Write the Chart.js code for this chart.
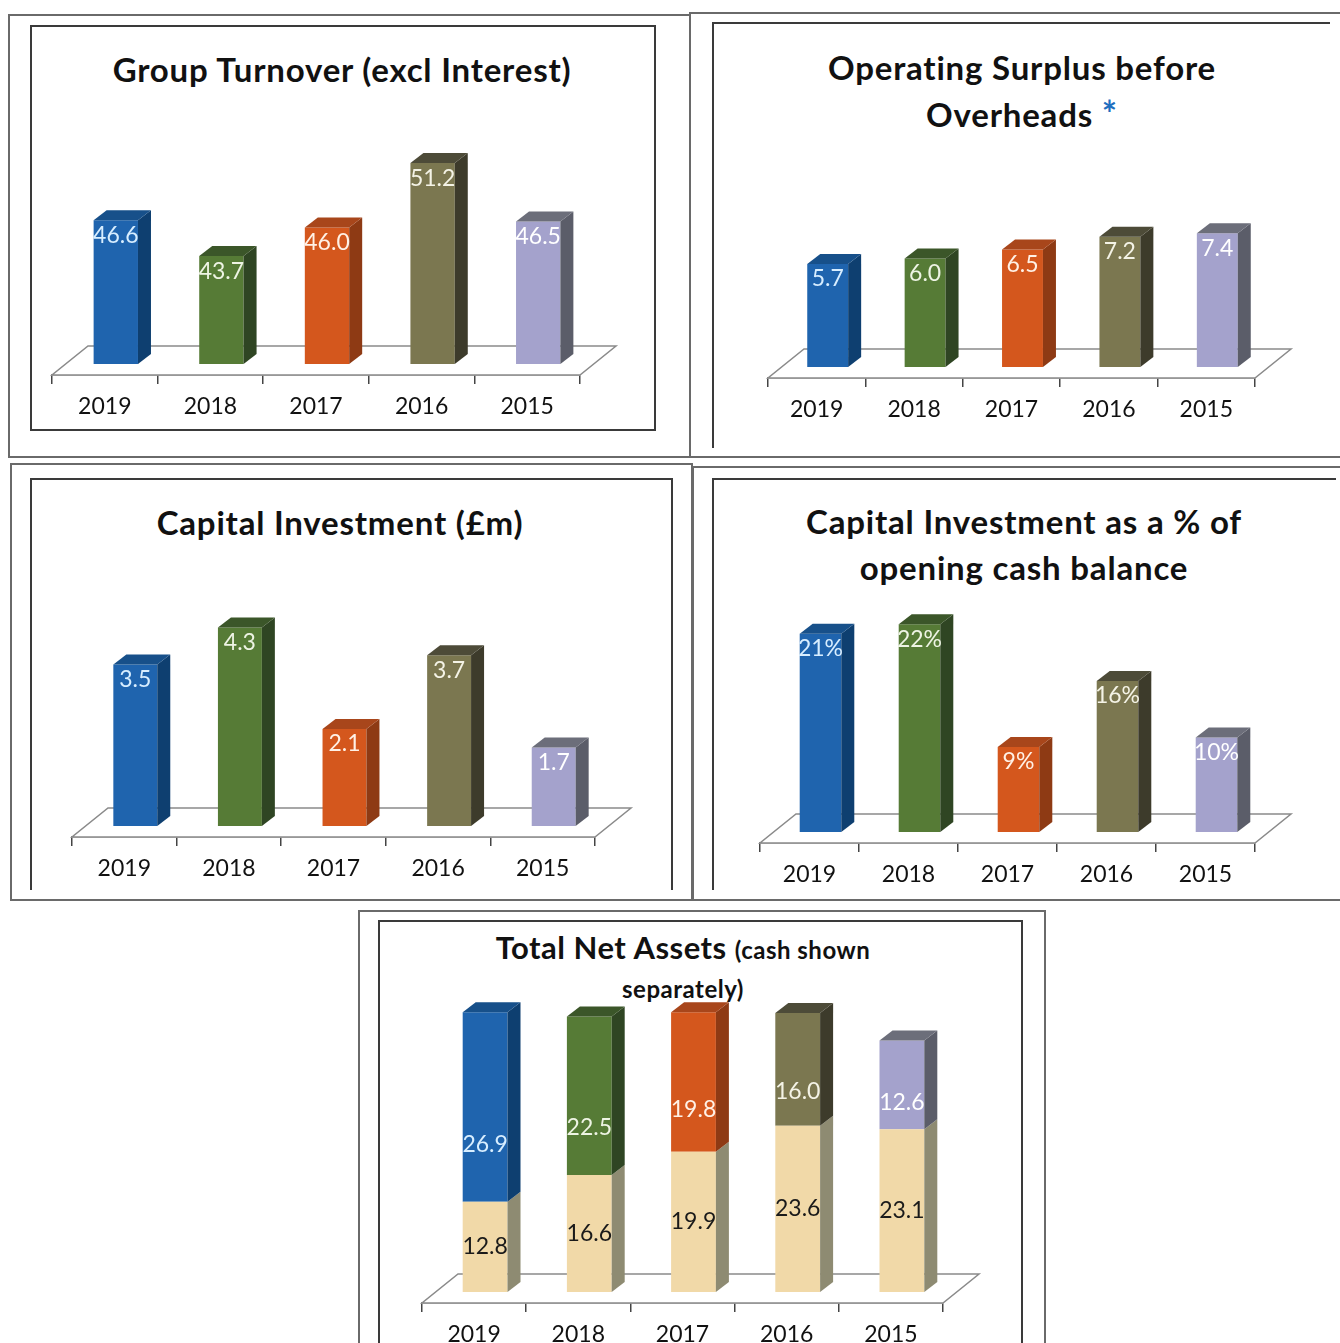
<!DOCTYPE html>
<html>
<head>
<meta charset="utf-8">
<title>Key figures 2015-2019</title>
<script src="https://cdn.jsdelivr.net/npm/chart.js@4.4.1/dist/chart.umd.min.js"></script>
<style>
  body { margin: 0; width: 1340px; height: 1343px; overflow: hidden; background: #fff; position: relative; font-family: Lato, "Open Sans", sans-serif; }
  .frame { position: absolute; box-sizing: border-box; border: 2px solid #6a6a6a; }
  .inner { position: absolute; box-sizing: border-box; border: 2px solid #3a3a3a; }
  .title { position: absolute; text-align: center; font-weight: bold; color: #111; white-space: nowrap; letter-spacing: 0.8px; }
  .star { color: #1f6fbf; font-size: 36px; }
  canvas { position: absolute; }
</style>
</head>
<body>

<!-- panel frames -->
<div class="frame" style="left:8px;top:14px;width:683px;height:444px"></div>
<div class="inner" style="left:30px;top:25px;width:626px;height:406px"></div>

<div class="frame" style="left:689px;top:12px;width:660px;height:446px"></div>
<div class="inner" style="left:712px;top:22px;width:618px;height:426px;border-right:none;border-bottom:none"></div>

<div class="frame" style="left:10px;top:463px;width:683px;height:438px"></div>
<div class="inner" style="left:30px;top:478px;width:643px;height:412px;border-bottom:none"></div>

<div class="frame" style="left:692px;top:466px;width:660px;height:435px"></div>
<div class="inner" style="left:712px;top:478px;width:624px;height:412px;border-right:none;border-bottom:none"></div>

<div class="frame" style="left:358px;top:910px;width:688px;height:450px"></div>
<div class="inner" style="left:378px;top:920px;width:645px;height:440px"></div>

<!-- titles -->
<div class="title" style="left:42px;width:600px;top:49px;font-size:33px;line-height:40px">Group Turnover (excl Interest)</div>
<div class="title" style="left:722px;width:600px;top:44px;font-size:33px;line-height:46px">Operating Surplus before<br>Overheads <span class="star">*</span></div>
<div class="title" style="left:40px;width:600px;top:502px;font-size:33px;line-height:40px">Capital Investment (£m)</div>
<div class="title" style="left:724px;width:600px;top:498px;font-size:33px;line-height:46px">Capital Investment as a % of<br>opening cash balance</div>
<div class="title" style="left:383px;width:600px;top:929px;font-size:31px;line-height:37px;letter-spacing:0.5px">Total Net Assets <span style="font-size:24px">(cash shown</span><br><span style="font-size:24px">separately)</span></div>

<canvas id="c1"></canvas>
<canvas id="c2"></canvas>
<canvas id="c3"></canvas>
<canvas id="c4"></canvas>
<canvas id="c5"></canvas>

<script>
// ---- data ----
const years = ['2019', '2018', '2017', '2016', '2015'];
const turnover = [46.6, 43.7, 46.0, 51.2, 46.5];
const surplus = [5.7, 6.0, 6.5, 7.2, 7.4];
const capInvest = [3.5, 4.3, 2.1, 3.7, 1.7];
const capInvestPct = [21, 22, 9, 16, 10];
const netAssetsCash = [12.8, 16.6, 19.9, 23.6, 23.1];
const netAssetsOther = [26.9, 22.5, 19.8, 16.0, 12.6];

// ---- colours ----
const frontColors = ['#1f64ae', '#567b36', '#d4571d', '#7b7750', '#a4a2cc'];
const sideColors = ['#0e3f70', '#2f4523', '#8e3a14', '#3d3b2b', '#5b5d69'];
const topColors = ['#17508a', '#3b5629', '#a8461b', '#4d4b38', '#6c6e7a'];
const labelColors = ['#d8eeff', '#eef4e4', '#fff1e6', '#f4f3e6', '#ffffff'];
const cashFront = ['#f1d9a8', '#f1d9a8', '#f1d9a8', '#f1d9a8', '#f1d9a8'];
const cashSide = ['#8e8b72', '#8e8b72', '#8e8b72', '#8e8b72', '#8e8b72'];
const cashLabel = ['#1a1a1a', '#1a1a1a', '#1a1a1a', '#1a1a1a', '#1a1a1a'];

function poly(ctx, pts, fill) {
  ctx.beginPath();
  ctx.moveTo(pts[0][0], pts[0][1]);
  for (let i = 1; i < pts.length; i++) ctx.lineTo(pts[i][0], pts[i][1]);
  ctx.closePath();
  ctx.fillStyle = fill;
  ctx.fill();
}

// floor, side and top faces, and value labels
const bars3d = {
  id: 'bars3d',
  beforeDatasetsDraw(chart, args, opts) {
    const { ctx, chartArea: a } = chart;
    ctx.save();
    ctx.beginPath();
    ctx.moveTo(a.left, a.bottom);
    ctx.lineTo(a.right, a.bottom);
    ctx.lineTo(a.right + opts.fdx, a.bottom + opts.fdy);
    ctx.lineTo(a.left + opts.fdx, a.bottom + opts.fdy);
    ctx.closePath();
    ctx.fillStyle = '#fff';
    ctx.fill();
    ctx.strokeStyle = '#8a8a8a';
    ctx.lineWidth = 1.5;
    ctx.stroke();
    ctx.restore();
    ctx.save();
    ctx.translate(opts.ox, opts.oy);
  },
  afterDatasetsDraw(chart, args, opts) {
    const ctx = chart.ctx;
    const sets = chart.data.datasets;
    const last = sets.length - 1;
    sets.forEach((ds, di) => {
      chart.getDatasetMeta(di).data.forEach((bar, i) => {
        const p = bar.getProps(['x', 'y', 'base', 'width'], true);
        const l = p.x - p.width / 2, r = p.x + p.width / 2;
        const t = Math.min(p.y, p.base), b = Math.max(p.y, p.base);
        poly(ctx, [[r, t], [r + opts.bdx, t + opts.bdy], [r + opts.bdx, b + opts.bdy], [r, b]], ds.sideColor[i]);
        if (di === last) {
          poly(ctx, [[l, t], [l + opts.bdx, t + opts.bdy], [r + opts.bdx, t + opts.bdy], [r, t]], ds.topColor[i]);
        }
      });
    });
    ctx.font = '23px Lato';
    ctx.textAlign = 'center';
    ctx.textBaseline = 'middle';
    sets.forEach((ds, di) => {
      chart.getDatasetMeta(di).data.forEach((bar, i) => {
        const p = bar.getProps(['x', 'y', 'base'], true);
        const t = Math.min(p.y, p.base), b = Math.max(p.y, p.base);
        let y = t + 15;
        if (ds.labelAt === 'center') y = (t + b) / 2;
        if (ds.labelAt === 'low') y = b - 0.3 * (b - t);
        const v = ds.data[i];
        ctx.fillStyle = ds.labelColor[i];
        ctx.fillText(ds.percent ? v + '%' : v.toFixed(1), p.x, y);
      });
    });
    ctx.restore();
  }
};

// geometry of each chart: floor front edge from L to R at B, y scale min..max
function makeChart(id, g, datasets) {
  const T = g.B - g.k * (g.max - g.min);
  const padL = 20, padR = 60, padT = 40, axisH = 60;
  const cv = document.getElementById(id);
  cv.width = g.R - g.L + padL + padR;
  cv.height = padT + (g.B - T) + axisH;
  cv.style.left = (g.L - padL) + 'px';
  cv.style.top = (T - padT) + 'px';
  const stacked = datasets.length > 1;
  new Chart(cv, {
    type: 'bar',
    data: { labels: years, datasets },
    options: {
      responsive: false,
      animation: false,
      events: [],
      layout: { padding: { left: padL, right: padR, top: padT, bottom: 0 } },
      plugins: {
        legend: { display: false },
        tooltip: { enabled: false },
        bars3d: { fdx: 36, fdy: -29, ox: 11, oy: -11, bdx: 13, bdy: -10 }
      },
      scales: {
        x: {
          stacked,
          afterFit: (s) => { s.height = axisH; },
          border: { display: true, color: '#8a8a8a', width: 1.5 },
          grid: { drawOnChartArea: false, drawTicks: true, tickLength: 9, color: '#444', lineWidth: 1.5 },
          ticks: { color: '#111', font: { family: 'Lato', size: 23 }, padding: 9 }
        },
        y: { display: false, stacked, min: g.min, max: g.max }
      }
    },
    plugins: [bars3d]
  });
}

function single(values, opts = {}) {
  const ds = {
    data: values,
    backgroundColor: frontColors,
    sideColor: sideColors,
    topColor: topColors,
    labelColor: labelColors,
    percent: !!opts.pct,
    barPercentage: 0.42,
    categoryPercentage: 1,
    borderWidth: 0,
    clip: false
  };
  if (opts.base !== undefined) ds.base = opts.base;
  return [ds];
}

makeChart('c1', { L: 52, R: 580, B: 375, k: 12.4, min: 35, max: 55 }, single(turnover, { base: 35 }));
makeChart('c2', { L: 768, R: 1255, B: 378, k: 18.1, min: 0, max: 12 }, single(surplus));
makeChart('c3', { L: 72, R: 595, B: 838, k: 46.3, min: 0, max: 6 }, single(capInvest));
makeChart('c4', { L: 760, R: 1255, B: 843, k: 9.45, min: 0, max: 25 }, single(capInvestPct, { pct: true }));
makeChart('c5', { L: 422, R: 943, B: 1303, k: 7.05, min: 0, max: 42 }, [
  {
    data: netAssetsCash,
    backgroundColor: cashFront,
    sideColor: cashSide,
    topColor: cashSide,
    labelColor: cashLabel,
    labelAt: 'center',
    barPercentage: 0.43,
    categoryPercentage: 1,
    borderWidth: 0,
    clip: false
  },
  {
    data: netAssetsOther,
    backgroundColor: frontColors,
    sideColor: sideColors,
    topColor: topColors,
    labelColor: labelColors,
    labelAt: 'low',
    barPercentage: 0.43,
    categoryPercentage: 1,
    borderWidth: 0,
    clip: false
  }
]);
</script>
</body>
</html>
